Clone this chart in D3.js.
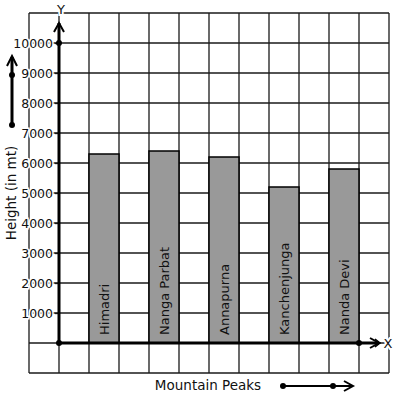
<!DOCTYPE html>
<html><head><meta charset="utf-8">
<script src="https://cdn.jsdelivr.net/npm/d3@7"></script>
<style>body{margin:0;background:#fff}svg{display:block}text{font-family:"DejaVu Sans",sans-serif;fill:#111}</style>
</head><body><svg id="c" width="397" height="399"></svg>
<script>
const peaks = ["Himadri", "Nanga Parbat", "Annapurna", "Kanchenjunga", "Nanda Devi"];
const heights = [6300, 6400, 6200, 5200, 5800];
const yTicks = [1000, 2000, 3000, 4000, 5000, 6000, 7000, 8000, 9000, 10000];

const svg = d3.select("#c");
const y = d3.scaleLinear().domain([-1000, 11000]).range([373, 13]);
const x = d3.scaleLinear().domain([-1, 11]).range([29, 389]);
const ink = "#1a1a1a";

// grid
const g = svg.append("g");
g.selectAll("line.v").data(d3.range(-1, 12)).join("line")
  .attr("x1", d => x(d)).attr("x2", d => x(d)).attr("y1", y(11000)).attr("y2", y(-1000))
  .attr("stroke", ink).attr("stroke-width", 1.3);
g.selectAll("line.h").data(d3.range(-1000, 11001, 1000)).join("line")
  .attr("y1", d => y(d)).attr("y2", d => y(d)).attr("x1", x(-1)).attr("x2", x(11))
  .attr("stroke", ink).attr("stroke-width", 1.3);

// bars
svg.append("g").selectAll("rect").data(peaks).join("rect")
  .attr("x", (d, i) => x(2 * i + 1)).attr("width", x(1) - x(0))
  .attr("y", (d, i) => y(heights[i])).attr("height", (d, i) => y(0) - y(heights[i]))
  .attr("fill", "#999").attr("stroke", "#000").attr("stroke-width", 1.5);

svg.append("g").selectAll("text").data(peaks).join("text")
  .attr("transform", (d, i) => `translate(${x(2 * i + 1) + 20},${y(0) - 8}) rotate(-90)`)
  .attr("font-size", 13).text(d => d);

// y axis ticks
const ax = svg.append("g").attr("transform", `translate(${x(0)},0)`)
  .call(d3.axisLeft(y).tickValues(yTicks).tickSize(4).tickPadding(2).tickFormat(d3.format("d")));
ax.select(".domain").remove();
ax.selectAll("line").attr("stroke", ink).attr("stroke-width", 1.3);
ax.selectAll("text").attr("font-size", 12.5).attr("font-family", "DejaVu Sans")
  .attr("fill", "#111").attr("stroke", "#fff").attr("stroke-width", 3)
  .attr("paint-order", "stroke");

// main axes
svg.append("line").attr("x1", x(0)).attr("x2", x(0)).attr("y1", y(0)).attr("y2", 23)
  .attr("stroke", "#000").attr("stroke-width", 3);
svg.append("path").attr("d", `M${x(0) - 5},32 L${x(0)},23 L${x(0) + 5},32`)
  .attr("fill", "none").attr("stroke", "#000").attr("stroke-width", 2);
svg.append("line").attr("x1", x(0)).attr("x2", 379).attr("y1", y(0)).attr("y2", y(0))
  .attr("stroke", "#000").attr("stroke-width", 3);
svg.append("path").attr("d", `M370,${y(0) - 5} L379,${y(0)} L370,${y(0) + 5}`)
  .attr("fill", "none").attr("stroke", "#000").attr("stroke-width", 2);
svg.append("path").attr("d", `M375,${y(0) - 4} L380,${y(0)} L375,${y(0) + 4}`)
  .attr("fill", "none").attr("stroke", "#000").attr("stroke-width", 1.5);
[[x(0), y(0)], [x(0), y(10000)], [x(10), y(0)]].forEach(p =>
  svg.append("circle").attr("cx", p[0]).attr("cy", p[1]).attr("r", 3).attr("fill", "#000"));

// axis letters
svg.append("text").attr("x", x(0) + 2).attr("y", 14).attr("text-anchor", "middle")
  .attr("font-size", 13).attr("stroke", "#fff").attr("stroke-width", 4).attr("paint-order", "stroke").text("Y");
svg.append("text").attr("x", 388).attr("y", y(0) + 5).attr("text-anchor", "middle")
  .attr("font-size", 13).attr("stroke", "#fff").attr("stroke-width", 4).attr("paint-order", "stroke").text("X");

// axis titles
svg.append("text").attr("transform", `translate(16,193) rotate(-90)`).attr("text-anchor", "middle")
  .attr("font-size", 13.5).attr("stroke", "#fff").attr("stroke-width", 4).attr("paint-order", "stroke")
  .text("Height (in mt)");
svg.append("text").attr("x", 208).attr("y", 390).attr("text-anchor", "middle")
  .attr("font-size", 13.5).text("Mountain Peaks");

// left arrow
svg.append("line").attr("x1", 12).attr("x2", 12).attr("y1", 125).attr("y2", 57)
  .attr("stroke", "#000").attr("stroke-width", 3);
svg.append("path").attr("d", "M7,66 L12,56 L17,66").attr("fill", "none").attr("stroke", "#000").attr("stroke-width", 2);
[125, 75].forEach(cy => svg.append("circle").attr("cx", 12).attr("cy", cy).attr("r", 3).attr("fill", "#000"));
// bottom arrow
svg.append("line").attr("x1", 283).attr("x2", 352).attr("y1", 386).attr("y2", 386)
  .attr("stroke", "#000").attr("stroke-width", 2);
svg.append("path").attr("d", "M344,381 L353,386 L344,391").attr("fill", "none").attr("stroke", "#000").attr("stroke-width", 2);
[283, 333].forEach(cx => svg.append("circle").attr("cx", cx).attr("cy", 386).attr("r", 3).attr("fill", "#000"));
</script></body></html>
